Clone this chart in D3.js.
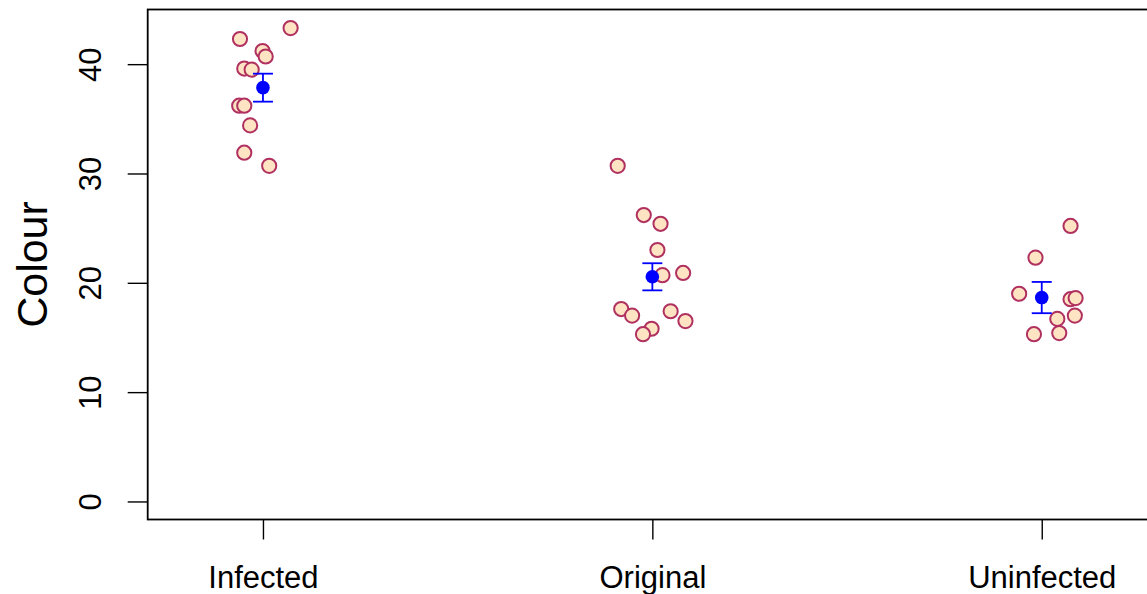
<!DOCTYPE html>
<html>
<head>
<meta charset="utf-8">
<script src="https://cdn.jsdelivr.net/npm/d3@7"></script>
<style>
  body { margin: 0; background: #fff; }
  svg { display: block; font-family: "Liberation Sans", Arial, Helvetica, sans-serif; }
</style>
</head>
<body>
<script>
// groups and the raw colour readings per group
var categories = ["Infected", "Original", "Uninfected"];
var infected = [43.3, 42.3, 41.2, 40.7, 39.6, 39.5, 36.2, 36.2, 34.4, 31.9, 30.7];
var original = [30.7, 26.2, 25.4, 23.0, 20.7, 20.9, 17.6, 17.0, 17.4, 16.5, 15.8, 15.3];
var uninfected = [25.2, 22.3, 19.0, 18.5, 18.6, 17.0, 16.7, 15.3, 15.4];
// horizontal jitter of each point (in category units)
var jitInfected = [0.071, -0.059, -0.001, 0.007, -0.048, -0.029, -0.061, -0.048, -0.033, -0.048, 0.016];
var jitOriginal = [-0.089, -0.022, 0.021, 0.013, 0.026, 0.079, -0.080, -0.052, 0.047, 0.085, -0.002, -0.024];
var jitUninfected = [0.074, -0.016, -0.058, 0.074, 0.087, 0.085, 0.040, -0.020, 0.045];
// group means and standard errors
var means = [37.85, 20.55, 18.65];
var ses = [1.28, 1.24, 1.43];
var yTicks = [0, 10, 20, 30, 40];

var W = 1147, H = 594;
// plot box edges (don't call it "top", that's window.top)
var pL = 147.7, pT = 9.5, pB = 519.5, pR = 1157;

var svg = d3.select("body").append("svg")
    .attr("width", W)
    .attr("height", H);

var x = d3.scaleLinear().domain([0.704, 3.296]).range([pL, pR]);
var y = d3.scaleLinear().domain([-1.65, 45.0]).range([pB, pT]);

// y axis
var yAxis = svg.append("g")
    .attr("transform", "translate(" + pL + ",0)")
    .call(d3.axisLeft(y).tickValues(yTicks).tickSize(20));
yAxis.select(".domain").remove();
yAxis.selectAll("line").attr("stroke", "#000").attr("stroke-width", 1.4);
yAxis.selectAll("text")
    .attr("x", 0).attr("dy", 0)
    .attr("transform", "translate(-46.5,0) rotate(-90)")
    .attr("text-anchor", "middle")
    .attr("fill", "#000")
    .style("font-size", "31px");

// x axis
var xAxis = svg.append("g")
    .attr("transform", "translate(0," + pB + ")")
    .call(d3.axisBottom(x).tickValues([1, 2, 3]).tickSize(20)
      .tickFormat(function(d) { return categories[d - 1]; }));
xAxis.select(".domain").remove();
xAxis.selectAll("line").attr("stroke", "#000").attr("stroke-width", 1.4);
xAxis.selectAll("text")
    .attr("y", 68.5).attr("dy", 0)
    .attr("fill", "#000")
    .style("font-size", "31px");

// plot box
svg.append("rect")
    .attr("x", pL).attr("y", pT)
    .attr("width", pR - pL).attr("height", pB - pT)
    .attr("fill", "none")
    .attr("stroke", "#000")
    .attr("stroke-width", 1.8);

// y label
svg.append("text")
    .attr("transform", "translate(46.5," + ((pT + pB) / 2) + ") rotate(-90)")
    .attr("text-anchor", "middle")
    .style("font-size", "43px")
    .text("Colour");

// raw points
var groups = [infected, original, uninfected];
var jits = [jitInfected, jitOriginal, jitUninfected];
var pts = [];
groups.forEach(function(vals, g) {
  vals.forEach(function(v, i) { pts.push({ g: g + 1, j: jits[g][i], v: v }); });
});
svg.append("g").selectAll("circle").data(pts).enter().append("circle")
    .attr("cx", function(d) { return x(d.g + d.j); })
    .attr("cy", function(d) { return y(d.v); })
    .attr("r", 7.1)
    .attr("fill", "#FFE4C4")
    .attr("stroke", "#B03060")
    .attr("stroke-width", 2);

// mean +/- se
var summ = means.map(function(m, i) { return { g: i + 1, m: m, se: ses[i] }; });
var sg = svg.append("g").selectAll("g").data(summ).enter().append("g");
sg.append("line")
    .attr("x1", function(d) { return x(d.g); }).attr("x2", function(d) { return x(d.g); })
    .attr("y1", function(d) { return y(d.m - d.se); }).attr("y2", function(d) { return y(d.m + d.se); })
    .attr("stroke", "blue").attr("stroke-width", 1.8);
[-1, 1].forEach(function(s) {
  sg.append("line")
      .attr("x1", function(d) { return x(d.g) - 10; }).attr("x2", function(d) { return x(d.g) + 10; })
      .attr("y1", function(d) { return y(d.m + s * d.se); }).attr("y2", function(d) { return y(d.m + s * d.se); })
      .attr("stroke", "blue").attr("stroke-width", 1.8);
});
sg.append("circle")
    .attr("cx", function(d) { return x(d.g); })
    .attr("cy", function(d) { return y(d.m); })
    .attr("r", 6.8)
    .attr("fill", "blue");
</script>
</body>
</html>
